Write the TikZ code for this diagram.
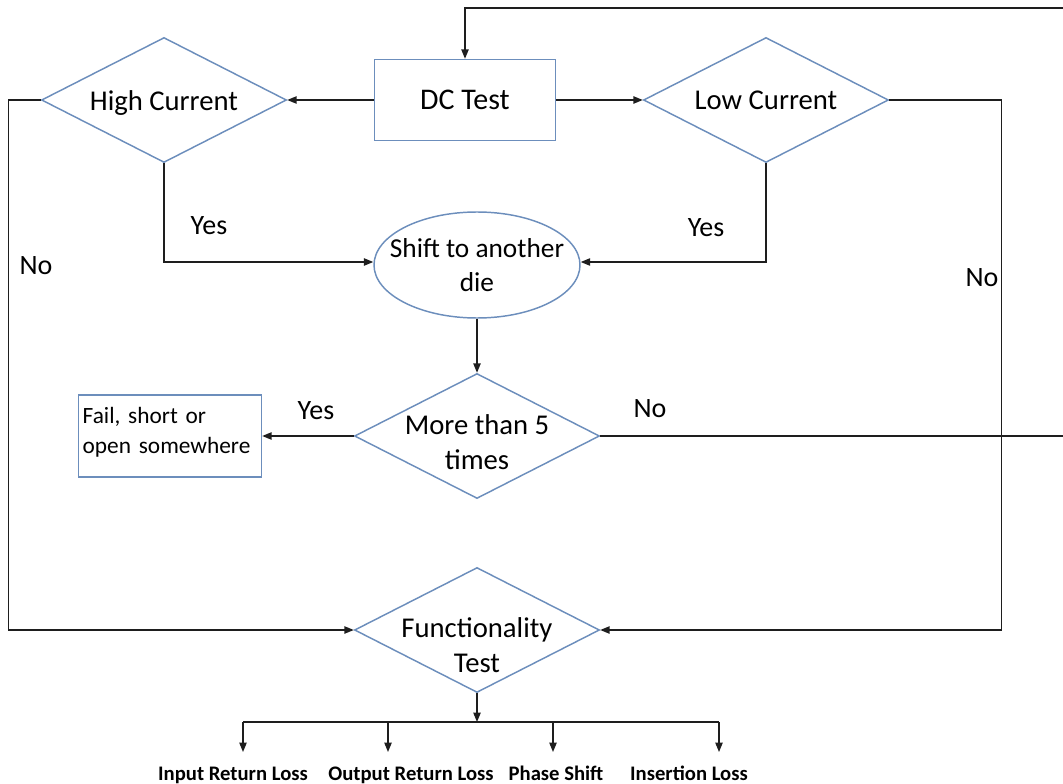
\documentclass[tikz,border=0pt]{standalone}
\usepackage{fontspec}
\setmainfont{Carlito}
\usetikzlibrary{shapes.geometric,arrows.meta}

\definecolor{boxblue}{RGB}{108,142,188}
\definecolor{wireblack}{RGB}{30,30,30}

\tikzset{
	wire/.style={draw=wireblack,line width=0.9pt},
	flow/.style={wire,-{Triangle[length=7pt,width=5.5pt]}},
	stepbox/.style={draw=boxblue,line width=1.1pt,rectangle,inner sep=0pt,
		minimum width=135.75pt,minimum height=60.75pt,
		font=\fontsize{22.5}{27}\selectfont},
	choice/.style={draw=boxblue,line width=1.1pt,diamond,aspect=1.96,inner sep=0pt,
		minimum width=183.75pt,minimum height=93.75pt},
	choicetext/.style={inner sep=0pt,align=center,font=\fontsize{21.5}{26}\selectfont},
	roundstep/.style={draw=boxblue,line width=1.1pt,ellipse,inner xsep=-12pt,inner ysep=0pt,
		minimum width=154.5pt,minimum height=79.5pt,align=center,
		font=\fontsize{20.5}{26}\selectfont},
	failbox/.style={draw=boxblue,line width=1.1pt,rectangle,inner sep=3pt,
		minimum width=137.25pt,minimum height=61.5pt,text width=131pt,align=left,
		font=\fontsize{17.5}{22.5}\selectfont},
	answer/.style={inner sep=0pt,font=\fontsize{21}{25}\selectfont},
	result/.style={inner sep=0pt,anchor=base,font=\fontsize{15.5}{18}\selectfont\bfseries},
}

\begin{document}
\begin{tikzpicture}[x=0.75pt,y=-0.75pt]
	\useasboundingbox (0,0) rectangle (1063,784);

	% steps of the test flow
	\node[stepbox] (dc) at (465,100) {DC Test};
	\node[choice] (hi) at (164,100) {};
	\node[choice] (lo) at (766,100) {};
	\node[roundstep] (shift) at (477,265) {Shift to another\\die};
	\node[choice] (more) at (477,436) {};
	\node[failbox] (fail) at (170,436) {Fail, short or\\open somewhere\rule[-9pt]{0pt}{0pt}};
	\node[choice] (func) at (477,630) {};

	% decision texts sit a little low in their diamonds
	\node[choicetext] (hitext) at (164,103) {High Current};
	\node[choicetext] (lotext) at (766,100) {Low Current};
	\node[choicetext] (moretext) at (477,442) {More than 5\\times};
	\node[choicetext] (functext) at (477,645) {Functionality\\Test};

	% the loop comes back in from the right
	\coordinate (loopin) at (1063,8);
	\coordinate (loopout) at (1063,436);

	\draw[flow] (dc.west) -- (hi.east);
	\draw[flow] (dc.east) -- (lo.west);
	\draw[flow] (hi.south) |- (shift.west |- 0,262);
	\draw[flow] (lo.south) |- (shift.east |- 0,262);
	\draw[flow] (hi.west) -- ++(-32,0) |- (func.west);
	\draw[flow] (lo.east) -- ++(112,0) |- (func.east);
	\draw[flow] (shift.south) -- (more.north);
	\draw[flow] (more.west) -- (fail.east);
	\draw[wire] (more.east) -- (loopout);
	\draw[flow] (loopin) -| (dc.north);

	\node[answer] (yes1) at (209,226) {Yes};
	\node[answer] (yes2) at (706,228) {Yes};
	\node[answer] (no1) at (36,266) {No};
	\node[answer] (no2) at (982,278) {No};
	\node[answer] (yes3) at (316,411) {Yes};
	\node[answer] (no3) at (650,409) {No};

	% measurements after the functionality test
	\coordinate (split) at (477,722);
	\coordinate (t1) at (243,722);
	\coordinate (t2) at (388,722);
	\coordinate (t3) at (553,722);
	\coordinate (t4) at (719,722);
	\draw[flow] (func.south) -- (split);
	\draw[wire] (t1) -- (t4);
	\draw[flow] (t1) -- ++(0,30);
	\draw[flow] (t2) -- ++(0,30);
	\draw[flow] (t3) -- ++(0,30);
	\draw[flow] (t4) -- ++(0,30);

	\node[result] (irl) at (233,780) {Input Return Loss};
	\node[result] (orl) at (411,780) {Output Return Loss};
	\node[result] (ps) at (556,780) {Phase Shift};
	\node[result] (il) at (689,780) {Insertion Loss};
\end{tikzpicture}
\end{document}
